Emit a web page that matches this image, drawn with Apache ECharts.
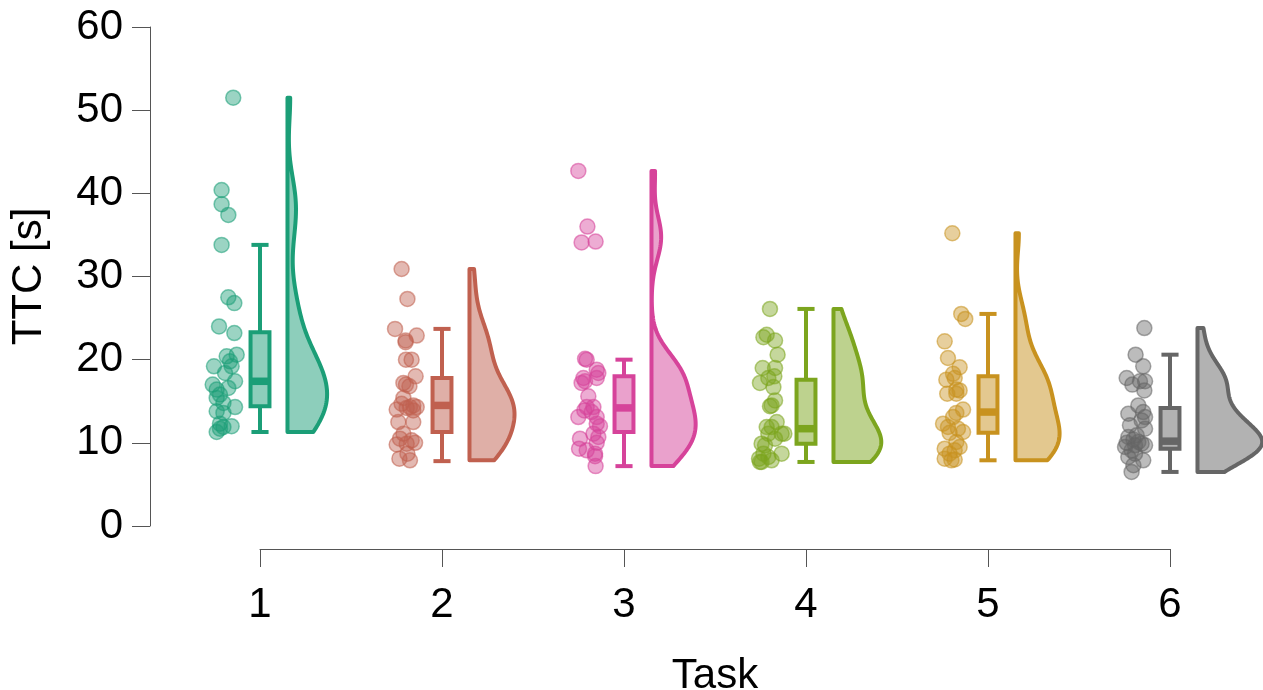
<!DOCTYPE html>
<html>
<head>
<meta charset="utf-8">
<script src="https://cdn.jsdelivr.net/npm/echarts/dist/echarts.min.js"></script>
<style>
  html, body { margin: 0; padding: 0; background: #ffffff; }
  #chart { width: 1263px; height: 690px; }
</style>
</head>
<body>
<div id="chart"></div>
<script>
// Task numbers and tick labels
const tasks = [1, 2, 3, 4, 5, 6];
const yTicks = [0, 10, 20, 30, 40, 50, 60];

// Time to completion (s) per participant, one array per task
const ttc1 = [51.5, 40.4, 38.7, 37.4, 33.8, 27.5, 26.8, 24.0, 23.2, 20.4, 20.6, 19.2, 19.8, 19.2, 18.4, 17.0, 17.4, 16.4, 16.6, 15.8, 15.4, 14.8, 14.3, 13.8, 13.6, 12.3, 12.0, 11.7, 11.3, 11.9];
const ttc2 = [30.9, 27.3, 23.7, 22.9, 22.3, 22.1, 20.0, 20.0, 18.0, 17.2, 16.8, 17.0, 15.4, 14.7, 14.5, 14.3, 14.2, 14.0, 13.9, 14.3, 12.5, 12.5, 11.1, 10.5, 10.3, 10.0, 9.8, 9.9, 8.1, 7.9, 8.7];
const ttc3 = [42.7, 36.0, 34.1, 34.2, 20.1, 20.0, 18.8, 18.4, 17.8, 17.4, 17.8, 17.2, 15.6, 14.3, 14.3, 13.9, 13.7, 13.1, 13.1, 12.0, 12.3, 11.1, 10.7, 10.5, 10.0, 9.3, 9.1, 8.7, 8.4, 7.2];
const ttc4 = [26.1, 22.7, 23.0, 22.3, 20.6, 19.0, 19.0, 18.0, 17.2, 17.8, 16.7, 15.1, 14.5, 14.4, 12.5, 11.9, 11.9, 11.1, 11.1, 11.1, 10.5, 9.9, 9.7, 8.7, 8.7, 8.1, 7.7, 7.9, 8.3, 7.7];
const ttc5 = [35.2, 25.5, 24.9, 22.2, 20.2, 19.1, 18.3, 17.6, 17.8, 16.4, 16.3, 15.9, 15.9, 14.0, 13.6, 13.1, 12.3, 11.9, 11.3, 11.2, 11.7, 10.1, 9.5, 9.3, 9.1, 8.1, 7.9, 8.0, 8.7];
const ttc6 = [23.8, 20.6, 19.2, 17.8, 17.0, 17.4, 17.4, 16.3, 14.5, 13.5, 13.7, 13.1, 12.7, 12.1, 11.7, 10.7, 10.9, 10.4, 10.0, 10.1, 9.9, 9.7, 9.7, 9.5, 9.1, 8.7, 8.3, 7.9, 7.3, 6.5];

// Horizontal jitter of each dot, in task units, relative to its task
const jit1 = [-0.147, -0.211, -0.211, -0.174, -0.211, -0.174, -0.141, -0.225, -0.141, -0.183, -0.128, -0.253, -0.165, -0.156, -0.192, -0.260, -0.137, -0.238, -0.174, -0.220, -0.238, -0.201, -0.137, -0.238, -0.201, -0.220, -0.156, -0.220, -0.238, -0.201];
const jit2 = [-0.222, -0.190, -0.258, -0.139, -0.200, -0.200, -0.198, -0.167, -0.145, -0.212, -0.179, -0.198, -0.212, -0.222, -0.158, -0.176, -0.194, -0.249, -0.158, -0.139, -0.240, -0.158, -0.212, -0.231, -0.167, -0.148, -0.249, -0.194, -0.234, -0.176, -0.190];
const jit3 = [-0.251, -0.201, -0.233, -0.156, -0.214, -0.205, -0.150, -0.141, -0.223, -0.214, -0.150, -0.233, -0.196, -0.205, -0.168, -0.218, -0.178, -0.251, -0.150, -0.132, -0.150, -0.168, -0.141, -0.242, -0.150, -0.247, -0.205, -0.159, -0.159, -0.156];
const jit4 = [-0.198, -0.234, -0.216, -0.170, -0.156, -0.238, -0.170, -0.174, -0.253, -0.207, -0.179, -0.170, -0.189, -0.198, -0.161, -0.216, -0.189, -0.134, -0.119, -0.207, -0.170, -0.244, -0.225, -0.234, -0.134, -0.258, -0.244, -0.189, -0.207, -0.253];
const jit5 = [-0.196, -0.147, -0.125, -0.238, -0.220, -0.156, -0.192, -0.229, -0.183, -0.174, -0.156, -0.224, -0.174, -0.137, -0.174, -0.192, -0.247, -0.220, -0.137, -0.211, -0.165, -0.174, -0.156, -0.238, -0.183, -0.238, -0.201, -0.183, -0.211];
const jit6 = [-0.141, -0.189, -0.147, -0.238, -0.207, -0.165, -0.137, -0.141, -0.174, -0.229, -0.147, -0.137, -0.156, -0.220, -0.137, -0.229, -0.183, -0.201, -0.238, -0.174, -0.156, -0.192, -0.137, -0.247, -0.211, -0.192, -0.229, -0.147, -0.201, -0.211];

// Box plot statistics per task (whisker ends, quartiles, median)
const boxLow    = [11.3,  7.8,  7.2,  7.7,  7.9,  6.5];
const boxQ1     = [14.4, 11.3, 11.3,  9.9, 11.2,  9.3];
const boxMedian = [17.4, 14.5, 14.2, 11.7, 13.7, 10.2];
const boxQ3     = [23.3, 17.8, 18.0, 17.6, 18.0, 14.2];
const boxHigh   = [33.8, 23.7, 20.0, 26.1, 25.5, 20.6];

const taskColors = ['#1B9E77', '#C0604F', '#D6439A', '#7CA51E', '#C8921F', '#666666'];

const ttcByTask = [ttc1, ttc2, ttc3, ttc4, ttc5, ttc6];
const jitByTask = [jit1, jit2, jit3, jit4, jit5, jit6];

// ---- layout constants ----
const FONT = "'Liberation Sans', Arial, Helvetica, sans-serif";
const FONT_SIZE = 42;
const PX_PER_TASK = 182;
const GRID_LEFT = 150;
const FIRST_TASK_X = 260;
const CHART_W = 1263;
const xMin = 1 - (FIRST_TASK_X - GRID_LEFT) / PX_PER_TASK;
const xMax = xMin + (CHART_W - GRID_LEFT) / PX_PER_TASK;

const BOX_HALF = 0.052;
const CAP_HALF = 0.047;
const STROKE = 4;
const VIOLIN_OFFSET = 0.151;
const VIOLIN_SCALE = 3.57;

function rgba(hex, a) {
  const n = parseInt(hex.slice(1), 16);
  return 'rgba(' + ((n >> 16) & 255) + ',' + ((n >> 8) & 255) + ',' + (n & 255) + ',' + a + ')';
}

// ---- half-violin: Gaussian kernel density, trimmed to the data range ----
function quantile7(sorted, p) {
  const h = (sorted.length - 1) * p;
  const lo = Math.floor(h), hi = Math.ceil(h);
  return sorted[lo] + (h - lo) * (sorted[hi] - sorted[lo]);
}
function densityOutline(vals) {
  const n = vals.length;
  const s = vals.slice().sort((a, b) => a - b);
  const mean = vals.reduce((a, b) => a + b, 0) / n;
  const sd = Math.sqrt(vals.reduce((a, b) => a + (b - mean) * (b - mean), 0) / (n - 1));
  const iqr = quantile7(s, 0.75) - quantile7(s, 0.25);
  const bw = 0.9 * Math.min(sd, iqr / 1.34) * Math.pow(n, -0.2);
  const lo = s[0], hi = s[n - 1];
  const steps = 160;
  const out = [];
  for (let k = 0; k <= steps; k++) {
    const y = lo + (hi - lo) * k / steps;
    let d = 0;
    for (const v of vals) {
      const z = (y - v) / bw;
      d += Math.exp(-0.5 * z * z);
    }
    d /= n * bw * Math.sqrt(2 * Math.PI);
    out.push([y, d]);
  }
  return out;
}
const violinOutlines = ttcByTask.map(densityOutline);

// ---- series ----
const series = [];

tasks.forEach((t, i) => {
  series.push({
    type: 'scatter',
    xAxisIndex: 0, yAxisIndex: 0,
    symbol: 'circle',
    symbolSize: 15,
    silent: true,
    itemStyle: {
      color: rgba(taskColors[i], 0.55),
      borderColor: rgba(taskColors[i], 0.7),
      borderWidth: 1.5
    },
    data: ttcByTask[i].map((v, j) => [t + jitByTask[i][j], v]),
    z: 2
  });
});

series.push({
  type: 'custom',
  xAxisIndex: 0, yAxisIndex: 0,
  silent: true,
  data: tasks.map((t, i) => [t, boxLow[i], boxQ1[i], boxMedian[i], boxQ3[i], boxHigh[i], i]),
  renderItem: function (params, api) {
    const t = api.value(0);
    const low = api.value(1), q1 = api.value(2), med = api.value(3), q3 = api.value(4), high = api.value(5);
    const idx = api.value(6);
    const col = taskColors[idx];
    const tl = api.coord([t - BOX_HALF, q3]);
    const br = api.coord([t + BOX_HALF, q1]);
    const line = (x1, y1, x2, y2, w) => {
      const a = api.coord([x1, y1]), b = api.coord([x2, y2]);
      return {
        type: 'line',
        shape: { x1: a[0], y1: a[1], x2: b[0], y2: b[1] },
        style: { stroke: col, lineWidth: w || STROKE, lineCap: 'butt' }
      };
    };
    return {
      type: 'group',
      children: [
        line(t, q3, t, high),
        line(t, q1, t, low),
        line(t - CAP_HALF, high, t + CAP_HALF, high),
        line(t - CAP_HALF, low, t + CAP_HALF, low),
        {
          type: 'rect',
          shape: { x: tl[0], y: tl[1], width: br[0] - tl[0], height: br[1] - tl[1] },
          style: { fill: rgba(col, 0.5), stroke: col, lineWidth: STROKE }
        },
        line(t - BOX_HALF, med, t + BOX_HALF, med, 7.5)
      ]
    };
  },
  z: 3
});

series.push({
  type: 'custom',
  xAxisIndex: 0, yAxisIndex: 0,
  silent: true,
  clip: false,
  data: tasks.map((t, i) => [t, i]),
  renderItem: function (params, api) {
    const t = api.value(0);
    const idx = api.value(1);
    const col = taskColors[idx];
    const outline = violinOutlines[idx];
    const x0 = t + VIOLIN_OFFSET;
    const pts = [api.coord([x0, outline[0][0]])];
    outline.forEach(([y, d]) => pts.push(api.coord([x0 + d * VIOLIN_SCALE, y])));
    pts.push(api.coord([x0, outline[outline.length - 1][0]]));
    return {
      type: 'polygon',
      shape: { points: pts },
      style: { fill: rgba(col, 0.5), stroke: col, lineWidth: STROKE, lineJoin: 'round' }
    };
  },
  z: 3
});

const axisGray = '#555555';

const option = {
  animation: false,
  backgroundColor: '#ffffff',
  grid: [
    { left: GRID_LEFT, right: 0, top: 27, bottom: 164, containLabel: false, outerBoundsMode: 'none' },
    { left: FIRST_TASK_X, right: CHART_W - (FIRST_TASK_X + 5 * PX_PER_TASK), top: 500, bottom: 141,
      containLabel: false, outerBoundsMode: 'none' }
  ],
  xAxis: [
    { gridIndex: 0, type: 'value', min: xMin, max: xMax, show: false },
    {
      gridIndex: 1, type: 'value', position: 'bottom',
      min: tasks[0], max: tasks[tasks.length - 1], interval: 1,
      name: 'Task', nameLocation: 'middle', nameGap: 106,
      nameTextStyle: { fontFamily: FONT, fontSize: FONT_SIZE, color: '#000' },
      axisLine: { show: true, lineStyle: { color: axisGray, width: 1 } },
      axisTick: { show: true, length: 18, lineStyle: { color: axisGray, width: 1 } },
      axisLabel: { show: true, margin: 35, fontFamily: FONT, fontSize: FONT_SIZE, color: '#000',
                   formatter: v => String(v) },
      splitLine: { show: false }
    }
  ],
  yAxis: [
    {
      gridIndex: 0, type: 'value',
      min: yTicks[0], max: yTicks[yTicks.length - 1], interval: 10,
      name: 'TTC [s]', nameLocation: 'middle', nameGap: 100, nameRotate: 90,
      nameTextStyle: { fontFamily: FONT, fontSize: FONT_SIZE, color: '#000' },
      axisLine: { show: true, lineStyle: { color: axisGray, width: 1 } },
      axisTick: { show: true, length: 18, lineStyle: { color: axisGray, width: 1 } },
      axisLabel: { show: true, margin: 27, fontFamily: FONT, fontSize: FONT_SIZE, color: '#000' },
      splitLine: { show: false }
    },
    { gridIndex: 1, type: 'value', show: false, min: 0, max: 1 }
  ],
  series: series
};

const chart = echarts.init(document.getElementById('chart'), null, { renderer: 'canvas' });
chart.setOption(option);
</script>
</body>
</html>
